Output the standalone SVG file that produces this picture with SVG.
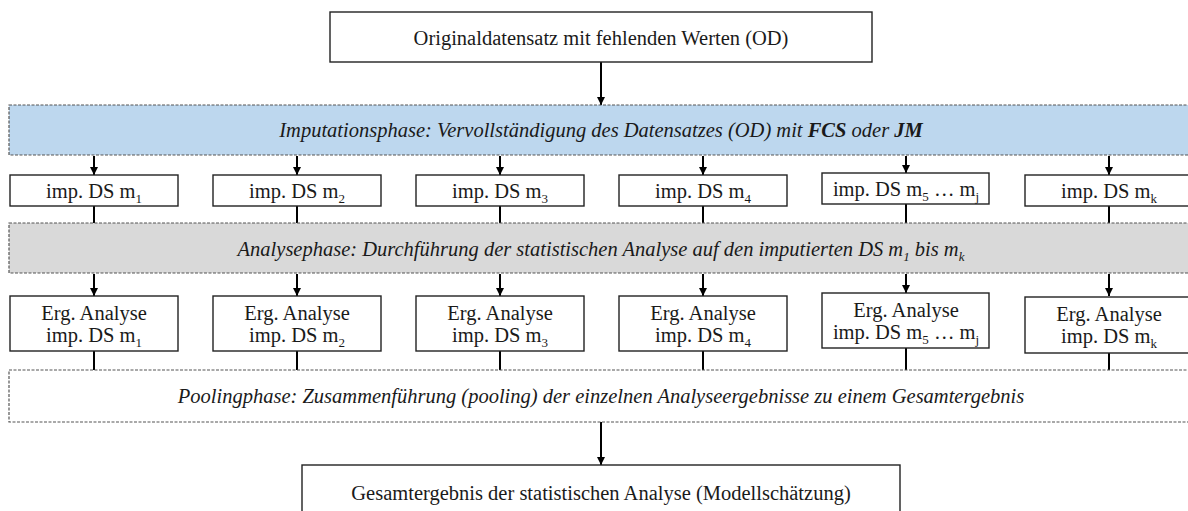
<svg xmlns="http://www.w3.org/2000/svg" width="1188" height="511" viewBox="0 0 1188 511">
  <defs>
    <marker id="arrow" viewBox="0 0 10 10" refX="10" refY="5" markerWidth="4" markerHeight="4" orient="auto" markerUnits="strokeWidth">
      <path d="M0,0 L10,5 L0,10 z" fill="#000"/>
    </marker>
    <style>
      text { font-family: "Liberation Serif", "Times New Roman", serif; font-size: 20.5px; fill: #1a1a1a; text-anchor: middle; }
      .box { fill: #fff; stroke: #222; stroke-width: 1.4; }
      .band { stroke: #555; stroke-width: 1.2; stroke-dasharray: 3 1.5; }
      .blue { fill: #bdd7ee; }
      .grey { fill: #d9d9d9; }
      .plain { fill: #fff; }
      .phase { font-style: italic; }
      .sub { font-size: 13px; }
      .conn { stroke: #000; stroke-width: 2; fill: none; }
      .arr { marker-end: url(#arrow); }
    </style>
  </defs>

  <!-- connectors -->
  <g id="connectors">
    <line class="conn arr" x1="601" y1="62" x2="601" y2="105"/>
    <!-- imputation phase to imputed data sets -->
    <line class="conn arr" x1="94" y1="156" x2="94" y2="175"/>
    <line class="conn arr" x1="297" y1="156" x2="297" y2="175"/>
    <line class="conn arr" x1="500" y1="156" x2="500" y2="175"/>
    <line class="conn arr" x1="703" y1="156" x2="703" y2="175"/>
    <line class="conn arr" x1="906" y1="156" x2="906" y2="173"/>
    <line class="conn arr" x1="1109" y1="156" x2="1109" y2="175"/>
    <!-- imputed data sets to analysis phase -->
    <line class="conn" x1="94" y1="206" x2="94" y2="223"/>
    <line class="conn" x1="297" y1="206" x2="297" y2="223"/>
    <line class="conn" x1="500" y1="206" x2="500" y2="223"/>
    <line class="conn" x1="703" y1="206" x2="703" y2="223"/>
    <line class="conn" x1="906" y1="204" x2="906" y2="223"/>
    <line class="conn" x1="1109" y1="206" x2="1109" y2="223"/>
    <!-- analysis phase to results -->
    <line class="conn arr" x1="94" y1="274" x2="94" y2="296"/>
    <line class="conn arr" x1="297" y1="274" x2="297" y2="296"/>
    <line class="conn arr" x1="500" y1="274" x2="500" y2="296"/>
    <line class="conn arr" x1="703" y1="274" x2="703" y2="296"/>
    <line class="conn arr" x1="906" y1="274" x2="906" y2="293"/>
    <line class="conn arr" x1="1109" y1="274" x2="1109" y2="296"/>
    <!-- results to pooling phase -->
    <line class="conn" x1="94" y1="351" x2="94" y2="370"/>
    <line class="conn" x1="297" y1="351" x2="297" y2="370"/>
    <line class="conn" x1="500" y1="351" x2="500" y2="370"/>
    <line class="conn" x1="703" y1="351" x2="703" y2="370"/>
    <line class="conn" x1="906" y1="348" x2="906" y2="370"/>
    <line class="conn" x1="1109" y1="353" x2="1109" y2="370"/>
    <line class="conn arr" x1="601" y1="422" x2="601" y2="465"/>
  </g>

  <g id="original">
    <rect class="box" x="330" y="12" width="542" height="50"/>
    <text x="601" y="45">Originaldatensatz mit fehlenden Werten (OD)</text>
  </g>

  <g id="imputationsphase">
    <rect class="band blue" x="9" y="105" width="1190" height="50"/>
    <text class="phase" x="601" y="137">Imputationsphase: Vervollständigung des Datensatzes (OD) mit <tspan font-weight="bold">FCS</tspan> oder <tspan font-weight="bold">JM</tspan></text>
  </g>

  <g id="imp1"><rect class="box" x="10" y="175" width="168" height="31"/><text x="94" y="198">imp. DS m<tspan class="sub" dy="5">1</tspan></text></g>
  <g id="imp2"><rect class="box" x="213" y="175" width="168" height="31"/><text x="297" y="198">imp. DS m<tspan class="sub" dy="5">2</tspan></text></g>
  <g id="imp3"><rect class="box" x="416" y="175" width="168" height="31"/><text x="500" y="198">imp. DS m<tspan class="sub" dy="5">3</tspan></text></g>
  <g id="imp4"><rect class="box" x="619" y="175" width="168" height="31"/><text x="703" y="198">imp. DS m<tspan class="sub" dy="5">4</tspan></text></g>
  <g id="imp5"><rect class="box" x="822" y="173" width="167" height="31"/><text x="906" y="196">imp. DS m<tspan class="sub" dy="5">5</tspan><tspan dy="-5"> … m</tspan><tspan class="sub" dy="5">j</tspan></text></g>
  <g id="imp6"><rect class="box" x="1025" y="175" width="168" height="31"/><text x="1109" y="198">imp. DS m<tspan class="sub" dy="5">k</tspan></text></g>

  <g id="analysephase">
    <rect class="band grey" x="9" y="223" width="1190" height="50"/>
    <text class="phase" x="601" y="256">Analysephase: Durchführung der statistischen Analyse auf den imputierten DS m<tspan class="sub" dy="5">1</tspan><tspan dy="-5"> bis m</tspan><tspan class="sub" dy="5">k</tspan></text>
  </g>

  <g id="erg1"><rect class="box" x="10" y="296" width="168" height="55"/><text x="94" y="320">Erg. Analyse</text><text x="94" y="342">imp. DS m<tspan class="sub" dy="5">1</tspan></text></g>
  <g id="erg2"><rect class="box" x="213" y="296" width="168" height="55"/><text x="297" y="320">Erg. Analyse</text><text x="297" y="342">imp. DS m<tspan class="sub" dy="5">2</tspan></text></g>
  <g id="erg3"><rect class="box" x="416" y="296" width="168" height="55"/><text x="500" y="320">Erg. Analyse</text><text x="500" y="342">imp. DS m<tspan class="sub" dy="5">3</tspan></text></g>
  <g id="erg4"><rect class="box" x="619" y="296" width="168" height="55"/><text x="703" y="320">Erg. Analyse</text><text x="703" y="342">imp. DS m<tspan class="sub" dy="5">4</tspan></text></g>
  <g id="erg5"><rect class="box" x="822" y="293" width="167" height="55"/><text x="906" y="317">Erg. Analyse</text><text x="906" y="339">imp. DS m<tspan class="sub" dy="5">5</tspan><tspan dy="-5"> … m</tspan><tspan class="sub" dy="5">j</tspan></text></g>
  <g id="erg6"><rect class="box" x="1025" y="297" width="168" height="56"/><text x="1109" y="321">Erg. Analyse</text><text x="1109" y="343">imp. DS m<tspan class="sub" dy="5">k</tspan></text></g>

  <g id="poolingphase">
    <rect class="band plain" x="9" y="370" width="1190" height="52"/>
    <text class="phase" x="601" y="403">Poolingphase: Zusammenführung (pooling) der einzelnen Analyseergebnisse zu einem Gesamtergebnis</text>
  </g>

  <g id="gesamtergebnis">
    <rect class="box" x="302" y="465" width="598" height="60" stroke="#555"/>
    <text x="601" y="500">Gesamtergebnis der statistischen Analyse (Modellschätzung)</text>
  </g>
</svg>
